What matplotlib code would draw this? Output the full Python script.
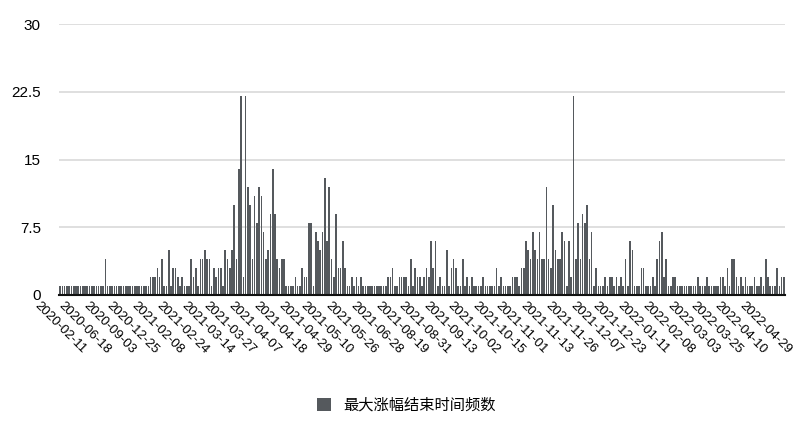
import matplotlib
matplotlib.use("Agg")
import matplotlib.pyplot as plt
import numpy as np
from matplotlib.patches import Patch

plt.rcParams['font.family'] = ['Liberation Sans', 'Noto Sans CJK SC', 'DejaVu Sans']

seg_a = [1] * 20 + [4] + [1] * 19
seg_b = [2, 2, 2, 3, 2, 4, 1, 1, 5, 1, 3, 3, 2, 1, 2, 1, 1, 1, 4, 2, 3, 1, 4, 4, 5, 4, 4, 1, 3, 2,
         3, 3, 1, 5, 4, 3, 5, 10, 4]
seg_c = [14, 22, 2, 22, 12, 10, 4, 11, 8, 12, 11, 7, 4, 5, 9, 14, 9, 4, 3, 4, 4, 1, 1, 1, 1, 2, 1, 1,
         3, 2, 2, 8, 8, 1, 7, 6, 5, 7, 13, 6, 12, 4, 2, 9, 3, 3, 6, 3, 1, 1, 2, 1, 2, 1, 2,
         1, 1, 1, 1, 1, 1, 1]
seg_d = [1, 1, 1, 1, 2, 2, 3, 1, 1, 2, 2, 2, 2, 1, 4, 1, 3, 2, 2, 1, 2, 3, 2, 6, 3, 6, 1, 2, 1, 1,
         5, 1, 3, 4, 3, 1, 1, 4, 1, 2, 1, 2, 1, 1, 1, 1, 2, 1, 1, 1, 1, 1, 3, 1, 2, 1, 1, 1, 1, 2,
         2, 2, 1]
seg_e = [3, 3, 6, 5, 4, 7, 5, 4, 7, 4, 4, 12, 4, 3, 10, 5, 4, 4, 7, 6, 1, 6, 2, 22, 4, 8, 4, 9, 8,
         10, 4, 7, 1, 3, 1, 1, 1, 2, 1, 2, 2, 1, 2, 1, 2, 1, 4, 1, 6, 5, 1, 1, 1, 3, 3, 1, 1, 1, 2]
seg_f = [1, 4, 6, 7, 2, 4, 1, 1, 2, 2, 1] + [1] * 8 + [2, 1, 1, 1, 2] + [1] * 5 + \
        [2, 2, 1, 3, 1, 4, 4, 2, 1, 2, 1, 2, 1, 1, 1, 2, 1, 1, 2, 1, 4, 2, 1, 1, 1, 3, 1, 2, 2]

values = seg_a + seg_b + seg_c + seg_d + seg_e + seg_f

tick_dates = ["2020-02-11", "2020-06-18", "2020-09-03", "2020-12-25", "2021-02-08", "2021-02-24",
              "2021-03-14", "2021-03-27", "2021-04-07", "2021-04-18", "2021-04-29", "2021-05-10",
              "2021-05-26", "2021-06-28", "2021-08-19", "2021-08-31", "2021-09-13", "2021-10-02",
              "2021-10-15", "2021-11-01", "2021-11-13", "2021-11-26", "2021-12-07", "2021-12-23",
              "2022-01-11", "2022-02-08", "2022-03-03", "2022-03-25", "2022-04-10", "2022-04-29"]

y_ticks = [0, 7.5, 15, 22.5, 30]
y_labels = ["0", "7.5", "15", "22.5", "30"]
series_name = "最大涨幅结束时间频数"

N = len(values)
x = np.arange(N)

fig = plt.figure(figsize=(8, 4.25), dpi=100)
ax = fig.add_axes([0.07375, 0.3059, 0.9075, 0.6376])

bar_color = '#55595d'
ax.bar(x, values, width=0.72, color=bar_color, linewidth=0, zorder=3)

ax.set_xlim(-0.5, N - 0.5)
ax.set_ylim(0, 30)
ax.set_yticks(y_ticks)
ax.set_yticklabels(y_labels, fontsize=11)
ax.yaxis.grid(True, color='#d9d9d9', linewidth=1.2, zorder=0)
ax.set_axisbelow(True)

tick_idx = np.round(np.linspace(0, N - 9, len(tick_dates))).astype(int)
ax.set_xticks(tick_idx)
ax.set_xticklabels(tick_dates, rotation=-45, ha='center', va='top', fontsize=9.5)

ax.tick_params(axis='y', length=0, pad=13)
ax.tick_params(axis='x', length=0, pad=3)

for s in ['left', 'right', 'top']:
    ax.spines[s].set_visible(False)
ax.spines['bottom'].set_color('#111111')
ax.spines['bottom'].set_linewidth(1.5)
ax.spines['bottom'].set_zorder(5)

handle = Patch(facecolor=bar_color, edgecolor='none')
fig.legend([handle], [series_name], loc='center', bbox_to_anchor=(0.508, 0.047),
           frameon=False, handlelength=0.9, handleheight=0.9, handletextpad=0.8,
           prop={'family': ['Noto Sans CJK SC', 'DejaVu Sans'], 'size': 11})

fig.savefig('out.png', dpi=100)
